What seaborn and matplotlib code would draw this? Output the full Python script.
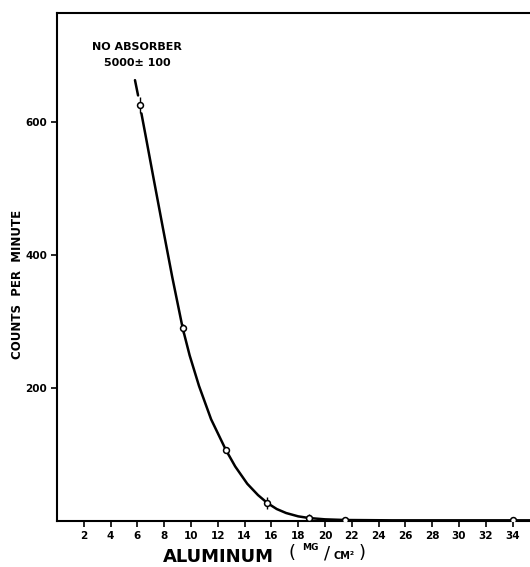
import matplotlib
matplotlib.use("Agg")
import matplotlib.pyplot as plt
import seaborn as sns

# Measured points (aluminum absorber thickness, mg/cm^2 -> counts per minute)
thickness = [6.2, 9.38, 12.6, 15.7, 18.8, 21.5, 34.0]
counts = [625, 290, 107, 27, 5, 2, 1]
count_err = [12, 7, 5, 9, 6, 4, 4]

# Hand-drawn smooth curve
curve_x = [6.3, 6.6, 7.2, 7.9, 8.6, 9.38, 9.9, 10.6, 11.5, 12.6, 13.3, 14.2,
           15.0, 15.7, 16.4, 17.1, 18.0, 18.8, 20.0, 21.5, 25.0, 30.0, 35.3]
curve_y = [613, 581, 516, 441, 367, 290, 249, 203, 153, 107, 82, 56,
           39, 27, 18, 12, 7, 4.5, 2.5, 1.5, 1, 1, 1]
# dashed extrapolation toward the "no absorber" value
dash_x = [5.82, 6.05]
dash_y = [663, 640]

x_ticks = list(range(2, 35, 2))
y_ticks = [200, 400, 600]

sns.set_style("ticks")
plt.rcParams['font.family'] = ['DejaVu Sans']
for k in ["text.color", "axes.labelcolor", "xtick.color", "ytick.color",
          "axes.edgecolor"]:
    plt.rcParams[k] = "black"

fig = plt.figure(figsize=(5.30, 5.67), dpi=100)
ax = fig.add_axes([57/530, 1 - 521/567, 1 - 57/530, (521 - 13)/567])

sns.lineplot(x=curve_x, y=curve_y, ax=ax, color="black", lw=1.8, sort=False)
sns.lineplot(x=dash_x, y=dash_y, ax=ax, color="black", lw=1.8, sort=False)
ax.errorbar(thickness, counts, yerr=count_err, fmt="none", ecolor="black",
            elinewidth=1.0, capsize=0, zorder=3)
sns.scatterplot(x=thickness, y=counts, ax=ax, marker="o", s=18,
                facecolor="white", edgecolor="black", linewidth=1.1, zorder=4)

ax.set_xlim(0, 35.3)
ax.set_ylim(0, 764)
ax.set_xticks(x_ticks)
ax.set_xticklabels([str(v) for v in x_ticks], fontsize=7.5, fontweight="bold")
ax.set_yticks(y_ticks)
ax.set_yticklabels([str(v) for v in y_ticks], fontsize=7.5, fontweight="bold")
ax.tick_params(axis="both", direction="out", length=4, width=1.2, pad=3,
               colors="black")

for side in ["left", "bottom", "top"]:
    ax.spines[side].set_visible(True)
    ax.spines[side].set_linewidth(1.5)
    ax.spines[side].set_color("black")
ax.spines["right"].set_visible(False)

ax.set_xlabel("")
ax.set_ylabel("")

fig.text(137/530, 1 - 47/567, "NO ABSORBER", ha="center", va="center",
         fontsize=8, fontweight="bold", color="black")
fig.text(137/530, 1 - 63/567, "5000± 100", ha="center", va="center",
         fontsize=8, fontweight="bold", color="black")

fig.text(18/530, 1 - 284/567, "COUNTS  PER  MINUTE", rotation=90,
         ha="center", va="center", fontsize=8.5, fontweight="bold",
         color="black")

fig.text(218/530, 1 - 557/567, "ALUMINUM", ha="center", va="center",
         fontsize=13, fontweight="bold", color="black")
fig.text(292/530, 1 - 553/567, "(", ha="center", va="center", fontsize=13,
         color="black")
fig.text(310/530, 1 - 548/567, "MG", ha="center", va="center", fontsize=6.5,
         fontweight="bold", color="black")
fig.text(327/530, 1 - 553/567, "/", ha="center", va="center", fontsize=13,
         color="black")
fig.text(344/530, 1 - 556/567, "CM²", ha="center", va="center", fontsize=7,
         fontweight="bold", color="black")
fig.text(362/530, 1 - 553/567, ")", ha="center", va="center", fontsize=13,
         color="black")

fig.savefig("out.png", dpi=100)
